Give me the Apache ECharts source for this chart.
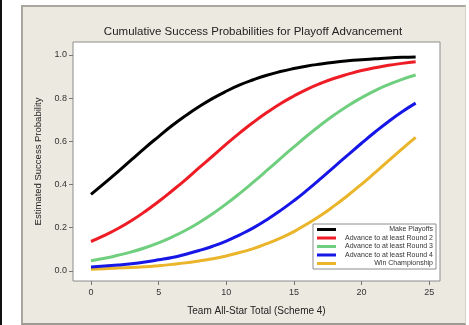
<!DOCTYPE html>
<html>
<head>
<meta charset="utf-8">
<script src="https://cdn.jsdelivr.net/npm/echarts@6/dist/echarts.min.js"></script>
<style>
  html, body { margin: 0; padding: 0; background: #ffffff; }
  #wrap { position: relative; width: 469px; height: 325px; overflow: hidden; background: #ffffff; }
  #edge { position: absolute; left: 0; top: 0; width: 2px; height: 325px; background: #111111; }
  #panel { position: absolute; left: 21px; top: 5px; width: 442px; height: 316px;
           background: #ece9e0; border-top: 2px solid #a8a69e; border-left: 2px solid #a8a69e;
           border-right: 1px solid #d6d3ca; border-bottom: 2px solid #9c9a92; }
  #chart { position: absolute; left: 0; top: 0; width: 469px; height: 325px; }
</style>
</head>
<body>
<div id="wrap">
  <div id="edge"></div>
  <div id="panel"></div>
  <div id="chart"></div>
</div>
<script>
// Team All-Star total (scheme 4)
var allStarTotal = [0,1,2,3,4,5,6,7,8,9,10,11,12,13,14,15,16,17,18,19,20,21,22,23,24];

// Estimated cumulative success probability for each stage
var makePlayoffs = [0.354,0.406,0.460,0.515,0.570,0.622,0.673,0.719,0.761,0.799,0.832,0.861,0.885,0.906,0.923,0.937,0.949,0.958,0.966,0.973,0.978,0.982,0.986,0.989,0.991];
var round2 = [0.136,0.164,0.196,0.233,0.275,0.321,0.371,0.423,0.478,0.532,0.587,0.639,0.688,0.733,0.774,0.810,0.842,0.869,0.892,0.911,0.928,0.941,0.952,0.961,0.969];
var round3 = [0.047,0.058,0.072,0.088,0.107,0.130,0.157,0.188,0.224,0.265,0.310,0.359,0.411,0.465,0.520,0.574,0.627,0.677,0.723,0.765,0.802,0.835,0.863,0.887,0.907];
var round4 = [0.018,0.022,0.027,0.033,0.041,0.051,0.062,0.077,0.094,0.114,0.138,0.167,0.199,0.237,0.279,0.325,0.375,0.428,0.483,0.537,0.591,0.643,0.692,0.737,0.777];
var championship = [0.008,0.010,0.013,0.016,0.019,0.024,0.030,0.037,0.046,0.056,0.069,0.085,0.103,0.126,0.152,0.182,0.218,0.257,0.302,0.350,0.401,0.455,0.510,0.565,0.618];

var seriesNames = ['Make Playoffs','Advance to at least Round 2','Advance to at least Round 3','Advance to at least Round 4','Win Championship'];
var seriesValues = [makePlayoffs, round2, round3, round4, championship];
var seriesColors = ['#000000','#ee1c25','#6fcf7f','#1616e6','#eab52a'];

var xTicks = [0,5,10,15,20,25];
var yTicks = [0,0.2,0.4,0.6,0.8,1.0];

function pairs(vals) {
  return allStarTotal.map(function (x, i) { return [x, vals[i]]; });
}

var chart = echarts.init(document.getElementById('chart'), null, { renderer: 'canvas' });

var fontFamily = 'Liberation Sans, Arial, sans-serif';

chart.setOption({
  backgroundColor: 'transparent',
  animation: false,
  title: {
    text: 'Cumulative Success Probabilities for Playoff Advancement',
    left: 248, top: 21, textAlign: 'center',
    textStyle: { fontFamily: fontFamily, fontSize: 11.5, fontWeight: 'normal', color: '#222222' }
  },
  grid: {
    left: 73, top: 42, right: 29, bottom: 44,
    show: true, backgroundColor: '#ffffff', borderColor: '#8c8c8c', borderWidth: 1
  },
  legend: {
    orient: 'vertical',
    left: 313, top: 224,
    backgroundColor: '#ffffff', borderColor: '#8c8c8c', borderWidth: 1,
    padding: [2, 3, 2, 4],
    itemGap: 1.5,
    itemWidth: 19, itemHeight: 3,
    icon: 'rect',
    data: seriesNames,
    formatter: function (name) { return '{t|' + name + '}'; },
    textStyle: {
      fontFamily: fontFamily, fontSize: 7, color: '#333333',
      rich: { t: { width: 92, align: 'right', fontSize: 7, lineHeight: 8.6, color: '#333333' } }
    }
  },
  xAxis: {
    type: 'value',
    min: -1.33, max: 25.8,
    name: 'Team All-Star Total (Scheme 4)',
    nameLocation: 'middle', nameGap: 25,
    nameTextStyle: { fontFamily: fontFamily, fontSize: 10, color: '#222222' },
    axisLine: { show: false, onZero: false },
    splitLine: { show: false },
    axisTick: { show: true, customValues: xTicks, length: 4, inside: false, lineStyle: { color: '#777777' } },
    axisLabel: { customValues: xTicks, margin: 7, formatter: function (v) { return String(v); }, fontFamily: fontFamily, fontSize: 9, color: '#333333' }
  },
  yAxis: {
    type: 'value',
    min: -0.047, max: 1.06,
    name: 'Estimated Success Probability',
    nameLocation: 'middle', nameGap: 30,
    nameTextStyle: { fontFamily: fontFamily, fontSize: 9.5, color: '#222222' },
    axisLine: { show: false, onZero: false },
    splitLine: { show: false },
    axisTick: { show: true, customValues: yTicks, length: 4, inside: false, lineStyle: { color: '#777777' } },
    axisLabel: { customValues: yTicks, margin: 6, formatter: function (v) { return v.toFixed(1); }, fontFamily: fontFamily, fontSize: 9, color: '#333333' }
  },
  series: seriesNames.map(function (name, i) {
    return {
      name: name,
      type: 'line',
      data: pairs(seriesValues[i]),
      smooth: true,
      showSymbol: false,
      symbol: 'none',
      color: seriesColors[i],
      lineStyle: { width: 3, color: seriesColors[i] },
      z: 10 - i
    };
  })
});
</script>
</body>
</html>
